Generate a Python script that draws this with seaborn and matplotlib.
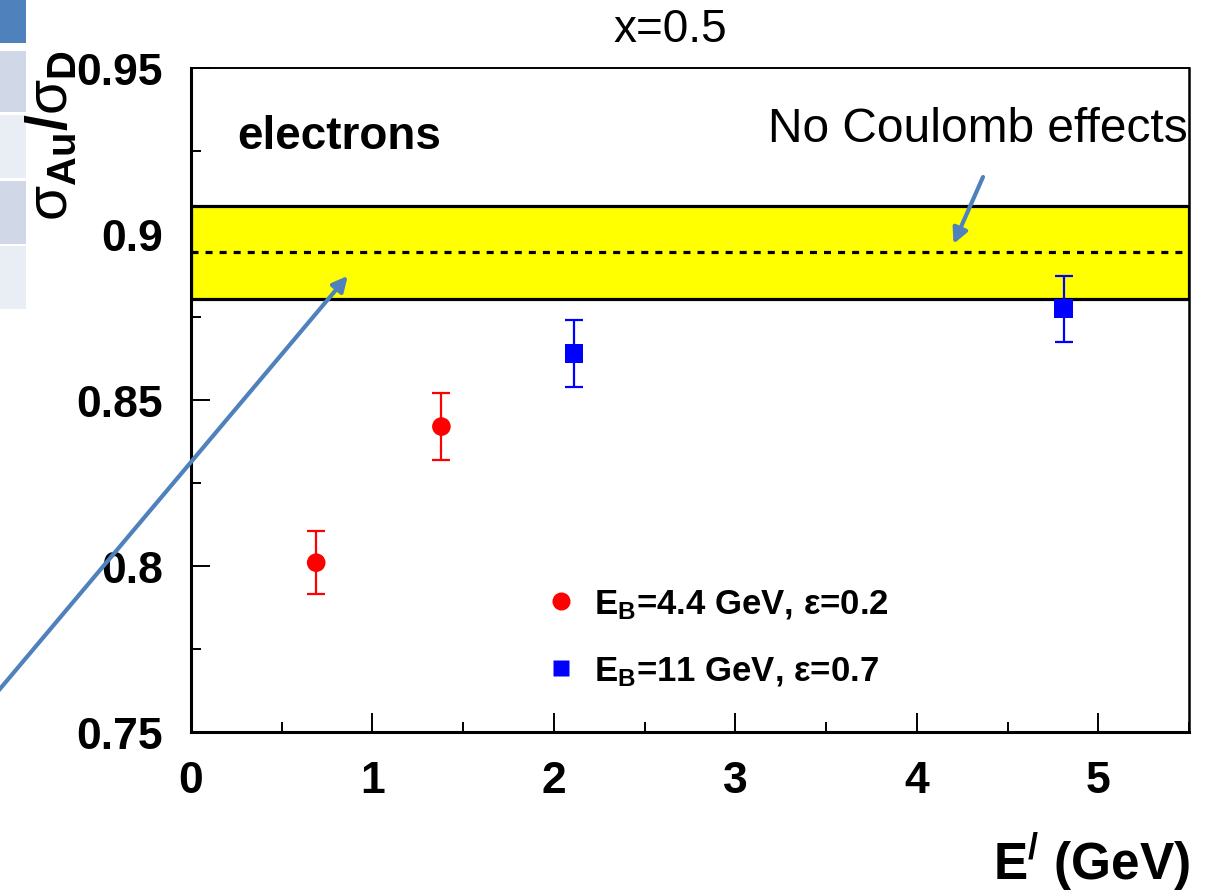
import matplotlib
matplotlib.use("Agg")
import matplotlib.pyplot as plt
from matplotlib.patches import Rectangle
from matplotlib.lines import Line2D
from matplotlib.ticker import MultipleLocator, FuncFormatter
import seaborn as sns
import pandas as pd

# Measured Au/D cross-section ratios at x = 0.5
e_prime_44 = [0.69, 1.38]
ratio_44 = [0.801, 0.842]
err_44 = [0.0095, 0.010]

e_prime_11 = [2.11, 4.81]
ratio_11 = [0.864, 0.8775]
err_11 = [0.010, 0.010]

series_labels = [r"E$_{\mathbf{B}}$=4.4 GeV, ε=0.2", r"E$_{\mathbf{B}}$=11 GeV, ε=0.7"]

# Expected ratio without Coulomb corrections (centre and half-width of band)
no_coulomb_center = 0.8945
no_coulomb_halfwidth = 0.014

x_ticks = [0, 1, 2, 3, 4, 5]
y_ticks = [0.75, 0.80, 0.85, 0.90, 0.95]

sns.set_style("white")
plt.rcParams["font.family"] = ["Liberation Sans", "DejaVu Sans"]
plt.rcParams["mathtext.fontset"] = "custom"
plt.rcParams["mathtext.rm"] = "Liberation Sans"
plt.rcParams["mathtext.bf"] = "Liberation Sans:bold"
plt.rcParams["mathtext.it"] = "Liberation Sans:italic"
for key in ["text.color", "axes.labelcolor", "xtick.color", "ytick.color", "axes.edgecolor"]:
    plt.rcParams[key] = "black"

df = pd.DataFrame({
    "E": e_prime_44 + e_prime_11,
    "ratio": ratio_44 + ratio_11,
    "err": err_44 + err_11,
    "beam": [series_labels[0]] * len(e_prime_44) + [series_labels[1]] * len(e_prime_11),
})

fig = plt.figure(figsize=(12.15, 8.95), dpi=100)
ax = fig.add_axes([191 / 1215, 1 - 733 / 895, (1189 - 191) / 1215, (733 - 69) / 895])

# slide sidebar blocks
side = [(0, 0, 44, "#4f81bd"), (0, 52, 61, "#d0d8e8"), (0, 116, 63, "#e9edf4"),
        (0, 182, 63, "#d0d8e8"), (0, 247, 63, "#e9edf4")]
for x0, y0, h, c in side:
    fig.patches.append(Rectangle((x0 / 1215, 1 - (y0 + h) / 895), 26 / 1215, h / 895,
                                 transform=fig.transFigure, facecolor=c, edgecolor="none", zorder=0))

# no-Coulomb band
ax.axhspan(no_coulomb_center - no_coulomb_halfwidth, no_coulomb_center + no_coulomb_halfwidth,
           facecolor="#ffff00", edgecolor="black", linewidth=2.3, zorder=1)
ax.axhline(no_coulomb_center, color="black", linestyle=(0, (2.2, 2.2)), linewidth=2.3, zorder=2)

palette = {series_labels[0]: "#ff0000", series_labels[1]: "#0000ff"}
markers = {series_labels[0]: "o", series_labels[1]: "s"}

for lab in series_labels:
    sub = df[df["beam"] == lab]
    ax.errorbar(sub["E"], sub["ratio"], yerr=sub["err"], fmt="none", ecolor=palette[lab],
                elinewidth=1.6, capsize=6.5, capthick=1.6, zorder=3)

sns.scatterplot(data=df, x="E", y="ratio", hue="beam", style="beam", palette=palette,
                markers=markers, s=180, edgecolor="none", legend=False, ax=ax, zorder=4)

ax.set_xlim(0, 5.5)
ax.set_ylim(0.75, 0.95)
ax.set_xticks(x_ticks)
ax.set_yticks(y_ticks)
ax.xaxis.set_minor_locator(MultipleLocator(0.5))
ax.yaxis.set_minor_locator(MultipleLocator(0.025))
ax.yaxis.set_major_formatter(FuncFormatter(lambda v, p: f"{v:g}"))
ax.tick_params(axis="both", which="both", direction="in", top=False, right=False,
               left=True, bottom=True, width=1.4, color="black", labelcolor="black")
ax.tick_params(axis="both", which="major", length=14, labelsize=32, pad=20)
ax.tick_params(axis="both", which="minor", length=7)
for t in ax.get_xticklabels() + ax.get_yticklabels():
    t.set_fontweight("bold")
ax.set_xlabel("")
ax.set_ylabel("")

for side_name, lw in [("left", 2.2), ("bottom", 2.2), ("top", 1.4), ("right", 1.8)]:
    ax.spines[side_name].set_visible(True)
    ax.spines[side_name].set_color("black")
    ax.spines[side_name].set_linewidth(lw)

# legend
handles = [
    Line2D([], [], linestyle="none", marker="o", markersize=13, markerfacecolor="#ff0000",
           markeredgecolor="none"),
    Line2D([], [], linestyle="none", marker="s", markersize=12, markerfacecolor="#0000ff",
           markeredgecolor="none"),
]
leg = ax.legend(handles, series_labels, loc="upper left", bbox_to_anchor=(526 / 1215, 1 - 571 / 895),
                bbox_transform=fig.transFigure, frameon=False, handlelength=1.0, handletextpad=0.45,
                labelspacing=0.95, borderpad=0, prop={"size": 25, "weight": "bold"})

# texts
fig.text(670 / 1215, 1 - 30 / 895, "x=0.5", fontsize=33, ha="center", va="center")
ax.text(237 / 1215, 1 - 137 / 895, "electrons", transform=fig.transFigure, fontsize=33,
        fontweight="bold", ha="left", va="center")
ax.text(1188 / 1215, 1 - 130 / 895, "No Coulomb effects", transform=fig.transFigure,
        fontsize=34.5, ha="right", va="center")
fig.text(1190 / 1215, 1 - 862 / 895, r"E$^{\mathbf{/}}$ (GeV)", fontsize=37, fontweight="bold",
         ha="right", va="center")
fig.text(52 / 1215, 1 - 50 / 895, r"σ$_{\mathbf{Au}}$$\mathbf{/}$σ$_{\mathbf{D}}$", fontsize=41,
         rotation=90, ha="center", va="top")

# annotation arrows
arrow_color = "#4f81bd"
ax.annotate("", xy=(0.864, 0.8874), xycoords="data", xytext=(-6, 895 - 697),
            textcoords="figure pixels", annotation_clip=False,
            arrowprops=dict(arrowstyle="-|>,head_length=0.9,head_width=0.45", color=arrow_color,
                            lw=3.0, shrinkA=0, shrinkB=0))
ax.annotate("", xy=(4.202, 0.897), xycoords="data", xytext=(983, 895 - 178),
            textcoords="figure pixels", annotation_clip=False,
            arrowprops=dict(arrowstyle="-|>,head_length=0.9,head_width=0.45", color=arrow_color,
                            lw=3.0, shrinkA=0, shrinkB=0))

fig.savefig("out.png", dpi=100)
